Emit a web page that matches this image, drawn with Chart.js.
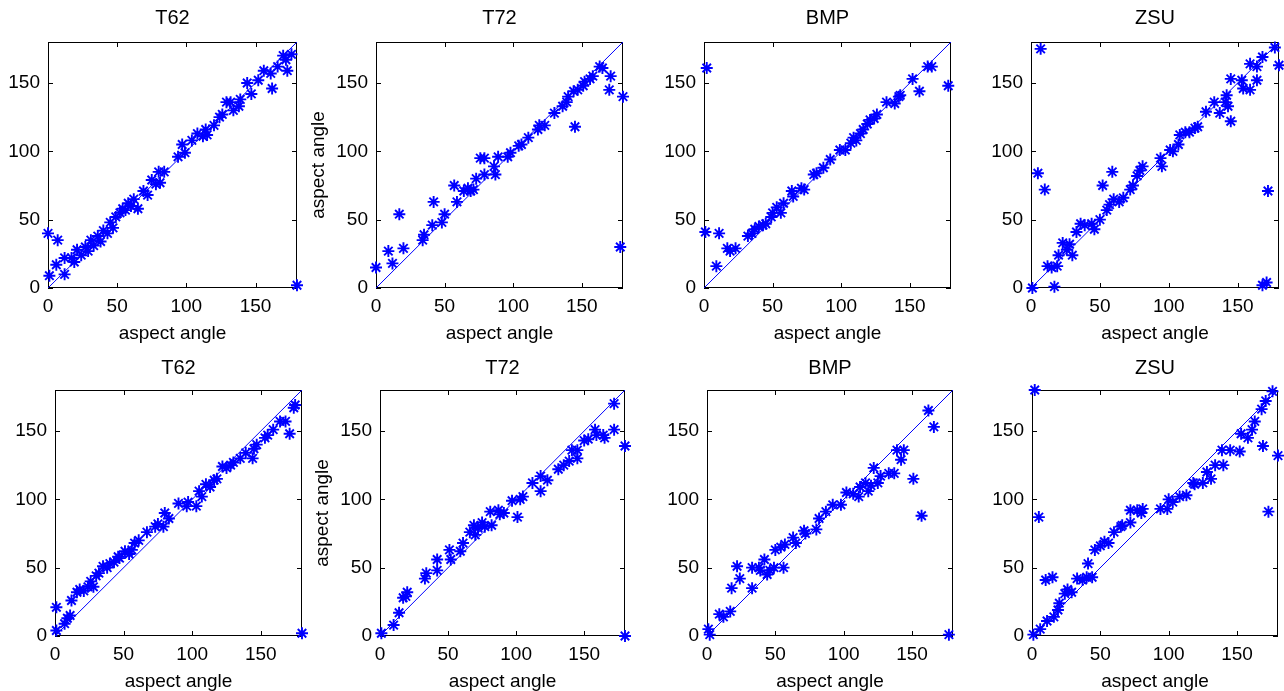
<!DOCTYPE html>
<html>
<head>
<meta charset="utf-8">
<title>aspect angle estimates</title>
<script src="https://cdn.jsdelivr.net/npm/chart.js@4.4.0/dist/chart.umd.min.js"></script>
<style>
    html, body { margin: 0; padding: 0; background: #fff; width: 1284px; height: 691px; overflow: hidden; }
    .panel { position: absolute; }
</style>
</head>
<body>
<script>
// axis range and tick labels (same on every panel)
const axisMin = 0;
const axisMax = 180;
const tickVals = [0, 50, 100, 150];
const axisLabel = "aspect angle";
const targetNames = ["T62", "T72", "BMP", "ZSU"];

// reference line y = x
const diagX = [0, 180];
const diagY = [0, 180];

// top row
const t62TopX = [0,7,1,6,12,12,17,19,21,24,27,29,31,33,36,38,40,43,45,47,49,52,54,56,58,60,62,65,69,72,75,78,80,81,84,94,97,99,104,108,112,114,115,120,124,126,129,132,134,138,139,144,147,152,156,162,161,166,170,172,173,176,180];
const t62TopY = [40,35,9,17,10,22,22,19,28,24,30,27,35,31,38,34,42,40,48,44,52,55,58,57,62,60,65,58,71,68,79,76,85,77,85,96,105,99,108,113,111,116,112,119,125,127,136,136,130,133,138,150,142,152,159,146,157,162,170,167,159,171,2];

const t72TopX = [0,9,12,17,20,34,35,42,41,48,50,57,59,64,67,69,71,73,76,79,79,87,86,89,96,98,104,106,111,118,119,123,130,136,139,140,145,144,147,151,152,156,158,163,165,171,170,180,178];
const t72TopY = [15,27,18,54,29,35,39,63,46,48,54,75,63,71,73,71,72,80,95,95,83,83,89,96,96,99,104,105,110,116,119,119,128,133,136,140,118,144,145,148,151,153,155,162,161,155,145,140,30];

const bmpTopX = [2,1,11,9,17,19,23,32,35,37,40,43,45,49,50,53,56,58,64,65,71,73,80,82,87,92,99,103,107,109,111,114,116,119,121,124,126,133,139,142,143,152,157,163,166,178];
const bmpTopY = [161,41,40,16,29,27,29,38,40,43,45,46,47,52,55,59,55,62,71,67,73,72,83,84,88,94,101,101,106,110,108,113,116,120,123,124,127,136,135,140,141,153,144,162,162,148];

const zsuTopX = [7,5,10,1,12,15,17,19,20,23,26,30,28,33,36,39,44,46,50,52,55,57,59,60,64,67,72,74,77,79,81,94,95,101,103,107,108,112,115,119,121,127,133,137,141,143,142,145,145,153,154,159,159,164,164,168,177,180,172,168,171];
const zsuTopY = [175,84,72,0,16,15,1,16,24,33,28,24,32,41,47,46,47,43,50,75,57,61,85,65,63,66,72,75,82,86,89,95,89,101,100,105,112,114,114,117,118,129,136,128,136,133,141,153,122,152,146,145,164,162,152,169,176,163,71,2,4];

// bottom row
const t62BotX = [1,1,7,9,11,12,16,18,21,24,26,28,30,32,35,38,40,43,46,47,51,54,56,58,61,67,73,75,79,80,83,90,96,97,103,105,107,110,113,116,118,122,125,128,130,135,139,144,145,147,153,155,159,164,168,171,174,175,180];
const t62BotY = [21,4,9,13,15,26,32,34,33,36,40,36,44,46,51,50,53,54,58,57,62,60,63,68,70,76,80,82,80,90,86,97,95,98,95,106,102,111,109,114,115,124,123,125,127,130,134,130,137,140,145,147,151,157,157,148,167,169,2];

const t72BotX = [1,10,14,17,20,19,33,34,42,42,51,52,59,61,66,69,70,72,75,77,82,81,87,88,91,97,101,103,105,112,118,118,123,131,135,139,141,145,145,150,153,158,159,164,165,172,172,180,180];
const t72BotY = [2,8,17,28,32,29,42,46,56,48,63,56,62,68,76,81,74,79,83,80,81,91,92,89,90,99,87,100,102,112,117,106,114,122,125,128,136,136,130,143,144,151,147,147,145,170,151,139,0];

const bmpBotX = [1,2,9,12,17,18,22,24,33,33,38,39,42,44,46,49,56,50,54,57,63,65,71,72,80,82,87,92,98,102,107,111,112,116,118,120,122,125,127,133,137,139,144,142,151,157,162,166,177];
const bmpBotY = [5,1,16,14,18,35,51,42,35,50,50,48,56,45,48,50,50,63,65,67,72,68,77,75,78,86,91,96,96,105,104,102,109,112,106,110,123,112,117,119,119,136,136,129,115,88,165,153,1];

const zsuBotX = [2,5,10,15,1,6,11,16,19,20,24,26,29,33,37,40,44,41,46,50,53,56,60,65,66,72,72,77,81,80,94,99,100,103,108,113,118,119,125,128,131,134,140,139,145,152,153,158,161,163,168,171,176,169,180,173];
const zsuBotY = [180,87,41,43,1,5,11,14,19,24,31,34,32,42,41,43,43,53,63,66,69,68,76,80,81,92,83,92,93,90,93,93,100,98,102,103,112,111,112,120,115,125,125,136,136,135,148,145,151,157,166,172,179,139,132,91];

// plot boxes on the page (left, top, width, height of the axes area)
const panels = [
    { xs: t62TopX, ys: t62TopY, name: 0, box: [48, 42, 249, 246], titleTop: 6 },
    { xs: t72TopX, ys: t72TopY, name: 1, box: [376, 42, 247, 246], titleTop: 6, yLabel: true },
    { xs: bmpTopX, ys: bmpTopY, name: 2, box: [704, 42, 247, 246], titleTop: 6 },
    { xs: zsuTopX, ys: zsuTopY, name: 3, box: [1031, 42, 248, 246], titleTop: 6 },
    { xs: t62BotX, ys: t62BotY, name: 0, box: [55, 390, 247, 246], titleTop: 8 },
    { xs: t72BotX, ys: t72BotY, name: 1, box: [380, 390, 245, 246], titleTop: 8, yLabel: true },
    { xs: bmpBotX, ys: bmpBotY, name: 2, box: [707, 390, 246, 246], titleTop: 8 },
    { xs: zsuBotX, ys: zsuBotY, name: 3, box: [1032, 390, 246, 246], titleTop: 8 }
];

const BLUE = "#0000ff";
const FONT = "'Liberation Sans', Arial, Helvetica, sans-serif";
const LEFT_SPACE = 70, TOP_SPACE = 42, RIGHT_SPACE = 10, BOTTOM_SPACE = 62;
const TITLE_SIZE = 20;

// matlab style box with inward ticks on all four sides
const boxPlugin = {
    id: "matlabBox",
    beforeDatasetsDraw(chart) {
        const { ctx, chartArea: a, scales } = chart;
        ctx.save();
        ctx.strokeStyle = "#000";
        ctx.lineWidth = 1;
        ctx.strokeRect(Math.round(a.left) + 0.5, Math.round(a.top) + 0.5,
            Math.round(a.right - a.left) - 1, Math.round(a.bottom - a.top) - 1);
        ctx.beginPath();
        tickVals.forEach(v => {
            const px = Math.round(scales.x.getPixelForValue(v)) + 0.5;
            ctx.moveTo(px, a.bottom); ctx.lineTo(px, a.bottom - 5);
            ctx.moveTo(px, a.top); ctx.lineTo(px, a.top + 5);
            const py = Math.round(scales.y.getPixelForValue(v)) + 0.5;
            ctx.moveTo(a.left, py); ctx.lineTo(a.left + 5, py);
            ctx.moveTo(a.right, py); ctx.lineTo(a.right - 5, py);
        });
        ctx.stroke();
        ctx.restore();
    }
};

const axisCommon = (fitFn, pad) => ({
    type: "linear",
    min: axisMin,
    max: axisMax,
    afterBuildTicks: s => { s.ticks = tickVals.map(v => ({ value: v })); },
    afterFit: fitFn,
    grid: { display: false, drawTicks: false },
    border: { display: false },
    ticks: { color: "#000", font: { family: FONT, size: 19 }, padding: pad, maxRotation: 0, autoSkip: false }
});

panels.forEach(p => {
    const [left, top, w, h] = p.box;
    const div = document.createElement("div");
    div.className = "panel";
    const cw = w + LEFT_SPACE + RIGHT_SPACE;
    const ch = h + TOP_SPACE + BOTTOM_SPACE;
    div.style.left = (left - LEFT_SPACE) + "px";
    div.style.top = (top - TOP_SPACE) + "px";
    div.style.width = cw + "px";
    div.style.height = ch + "px";
    const canvas = document.createElement("canvas");
    canvas.width = cw;
    canvas.height = ch;
    canvas.style.width = cw + "px";
    canvas.style.height = ch + "px";
    div.appendChild(canvas);
    document.body.appendChild(div);

    const xAxis = axisCommon(s => { s.height = BOTTOM_SPACE; }, 7);
    xAxis.title = { display: true, text: axisLabel, color: "#000", font: { family: FONT, size: 19 }, padding: { top: 0, bottom: 5 } };
    const yAxis = axisCommon(s => { s.width = LEFT_SPACE; }, 8);
    yAxis.title = { display: !!p.yLabel, text: axisLabel, color: "#000", font: { family: FONT, size: 19 }, padding: { top: 1, bottom: 0 } };

    const titleLine = TITLE_SIZE * 1.2;

    new Chart(canvas, {
        type: "scatter",
        data: {
            datasets: [
                {
                    data: p.xs.map((x, i) => ({ x: x, y: p.ys[i] })),
                    pointStyle: "star",
                    pointRadius: 6,
                    pointHoverRadius: 6,
                    borderWidth: 1.9,
                    borderColor: BLUE,
                    backgroundColor: BLUE,
                    clip: false
                },
                {
                    data: diagX.map((x, i) => ({ x: x, y: diagY[i] })),
                    showLine: true,
                    pointRadius: 0,
                    borderWidth: 1,
                    borderColor: BLUE,
                    backgroundColor: BLUE
                }
            ]
        },
        options: {
            responsive: false,
            animation: false,
            devicePixelRatio: 1,
            layout: { padding: { left: 0, top: 0, right: RIGHT_SPACE, bottom: 0 } },
            plugins: {
                legend: { display: false },
                tooltip: { enabled: false },
                title: {
                    display: true,
                    text: targetNames[p.name],
                    fullSize: false,
                    color: "#000",
                    font: { family: FONT, size: TITLE_SIZE, weight: "normal" },
                    padding: { top: p.titleTop, bottom: TOP_SPACE - p.titleTop - titleLine }
                }
            },
            scales: { x: xAxis, y: yAxis }
        },
        plugins: [boxPlugin]
    });
});
</script>
</body>
</html>
